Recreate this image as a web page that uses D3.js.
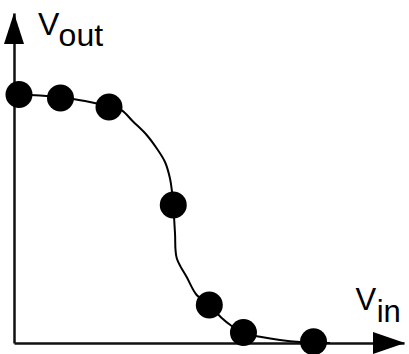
<!DOCTYPE html>
<html>
<head>
<meta charset="utf-8">
<script src="https://cdn.jsdelivr.net/npm/d3@7"></script>
<style>
  body { margin: 0; background: #fff; }
</style>
</head>
<body>
<div id="chart"></div>
<script>
// measured points on the transfer curve (Vin, Vout)
const pointVin = [0.064, 0.596, 1.218, 2.042, 2.504, 2.942, 3.840];
const pointVout = [3.765, 3.712, 3.576, 2.091, 0.576, 0.159, 0.020];

// the smooth curve through them
const curveVin = [0, 0.333, 0.596, 0.910, 1.218, 1.381, 1.526, 1.701, 1.829, 1.936, 2.0, 2.026, 2.042,
    2.064, 2.086, 2.214, 2.342, 2.504, 2.663, 2.791, 2.940, 3.154, 3.410, 3.667, 4.051];
const curveVout = [3.765, 3.750, 3.720, 3.667, 3.583, 3.523, 3.356, 3.152, 2.950, 2.742, 2.492, 2.288, 2.091,
    1.667, 1.288, 1.0, 0.727, 0.576, 0.379, 0.258, 0.152, 0.095, 0.045, 0.015, 0];

const xLabel = 'V', xSub = 'in';
const yLabel = 'V', ySub = 'out';

const width = 409,
    height = 354,
    fontFamily = 'Liberation Sans, Arial, sans-serif';

const svg = d3.select('#chart')
    .append('svg')
    .attr('width', width)
    .attr('height', height)
    .style('display', 'block');

// x-axis 0..5 V, y-axis 0..5 V
let x = d3.scaleLinear()
    .domain([0, 5])
    .range([14, 404]);

let y = d3.scaleLinear()
    .domain([0, 5])
    .range([343, 13]);

let xAxis = svg.append('g')
    .attr('transform', 'translate(0,' + y(0) + ')')
    .call(d3.axisBottom(x).tickValues([]).tickSizeOuter(0));

let yAxis = svg.append('g')
    .attr('transform', 'translate(' + x(0) + ',0)')
    .call(d3.axisLeft(y).tickValues([]).tickSizeOuter(0));

svg.selectAll('.domain')
    .attr('stroke', '#111')
    .attr('stroke-width', 2.5);

// arrow heads at the ends of the axes
const xEnd = x.range()[1], yEnd = y.range()[1];
svg.append('path')
    .attr('d', `M${xEnd + 1},${y(0)} L${xEnd - 31},${y(0) - 11} L${xEnd - 31},${y(0) + 11} Z`)
    .attr('fill', '#000');
svg.append('path')
    .attr('d', `M${x(0)},${yEnd} L${x(0) - 10},${yEnd + 31} L${x(0) + 10},${yEnd + 31} Z`)
    .attr('fill', '#000');

const curveData = curveVin.map((v, i) => [v, curveVout[i]]);
const line = d3.line()
    .x(d => x(d[0]))
    .y(d => y(d[1]))
    .curve(d3.curveCatmullRom.alpha(0.5));

svg.append('path')
    .datum(curveData)
    .attr('fill', 'none')
    .attr('stroke', '#000')
    .attr('stroke-width', 2)
    .attr('d', line);

svg.selectAll('circle')
    .data(pointVin.map((v, i) => [v, pointVout[i]]))
    .enter()
    .append('circle')
    .attr('cx', d => x(d[0]))
    .attr('cy', d => y(d[1]))
    .attr('r', 13.5)
    .attr('fill', '#000');

// labels
let yText = svg.append('text')
    .attr('x', 38)
    .attr('y', 34.5)
    .style('font-family', fontFamily)
    .style('font-size', '32px')
    .attr('fill', '#000');
yText.append('tspan').text(yLabel);
yText.append('tspan').attr('dx', 1).attr('dy', 11.5).text(ySub);

let xText = svg.append('text')
    .attr('x', 355.5)
    .attr('y', 310)
    .style('font-family', fontFamily)
    .style('font-size', '31px')
    .attr('fill', '#000');
xText.append('tspan').text(xLabel);
xText.append('tspan').attr('dx', 1).attr('dy', 11.7).text(xSub);
</script>
</body>
</html>
